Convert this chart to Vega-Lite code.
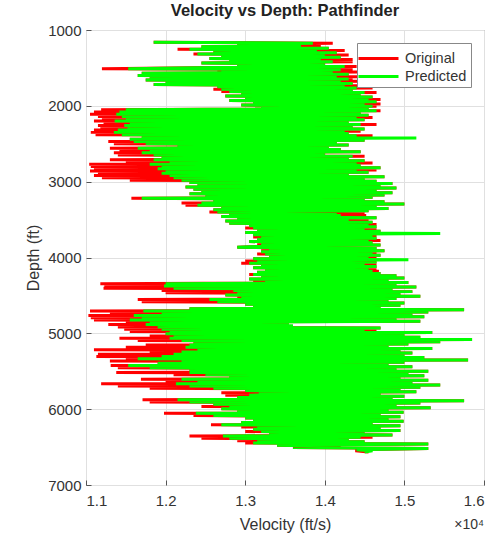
{
"$schema": "https://vega.github.io/schema/vega-lite/v6.json",
"width": 398, "height": 455,
"autosize": {"type": "none"},
"padding": {"left": 86, "top": 30, "right": 12, "bottom": 56},
"background": "white",
"config": {
  "font": "Liberation Sans",
  "view": {"stroke": "#808080", "strokeWidth": 1},
  "axis": {"labelFont": "Liberation Sans", "labelFontSize": 15, "labelColor": "#333333", "titleFont": "Liberation Sans", "titleFontSize": 16, "titleFontWeight": "normal", "titleColor": "#333333", "gridColor": "#e0e0e0", "gridWidth": 1, "domain": false, "tickColor": "#555555", "tickSize": -5}
},
"title": {"text": "Velocity vs Depth: Pathfinder", "fontSize": 16.5, "fontWeight": "bold", "font": "Liberation Sans", "color": "#222222", "offset": 4},
"datasets": {"logs": [
{"d":1160,"Original":11850,"Predicted":11850},
{"d":1175,"Original":14100,"Predicted":13850},
{"d":1190,"Original":12900,"Predicted":12900},
{"d":1205,"Original":13950,"Predicted":13700},
{"d":1220,"Original":12450,"Predicted":12450},
{"d":1240,"Original":14050,"Predicted":14050},
{"d":1255,"Original":12150,"Predicted":12300},
{"d":1270,"Original":14250,"Predicted":13900},
{"d":1285,"Original":12600,"Predicted":12600},
{"d":1300,"Original":14150,"Predicted":14150},
{"d":1315,"Original":12350,"Predicted":12400},
{"d":1330,"Original":14300,"Predicted":14000},
{"d":1345,"Original":12700,"Predicted":12700},
{"d":1360,"Original":14200,"Predicted":14200},
{"d":1375,"Original":12550,"Predicted":12550},
{"d":1390,"Original":14350,"Predicted":13950},
{"d":1405,"Original":12800,"Predicted":12800},
{"d":1420,"Original":14350,"Predicted":14100},
{"d":1435,"Original":12450,"Predicted":12450},
{"d":1450,"Original":14000,"Predicted":14000},
{"d":1465,"Original":12900,"Predicted":12900},
{"d":1480,"Original":14400,"Predicted":14250},
{"d":1495,"Original":12600,"Predicted":12600},
{"d":1510,"Original":11200,"Predicted":11530},
{"d":1525,"Original":14350,"Predicted":14200},
{"d":1540,"Original":12650,"Predicted":12700},
{"d":1555,"Original":14450,"Predicted":14100},
{"d":1570,"Original":11700,"Predicted":11700},
{"d":1585,"Original":14300,"Predicted":14300},
{"d":1600,"Original":11650,"Predicted":11650},
{"d":1615,"Original":14500,"Predicted":14150},
{"d":1630,"Original":11800,"Predicted":11800},
{"d":1645,"Original":14350,"Predicted":14300},
{"d":1660,"Original":11750,"Predicted":11750},
{"d":1675,"Original":14550,"Predicted":14200},
{"d":1690,"Original":12000,"Predicted":12000},
{"d":1705,"Original":14350,"Predicted":14350},
{"d":1720,"Original":11850,"Predicted":11850},
{"d":1735,"Original":14450,"Predicted":14250},
{"d":1750,"Original":12650,"Predicted":12650},
{"d":1765,"Original":14600,"Predicted":14400},
{"d":1780,"Original":12600,"Predicted":12700},
{"d":1795,"Original":14350,"Predicted":14350},
{"d":1810,"Original":12700,"Predicted":12800},
{"d":1825,"Original":14650,"Predicted":14500},
{"d":1840,"Original":12950,"Predicted":12950},
{"d":1855,"Original":14450,"Predicted":14450},
{"d":1870,"Original":12750,"Predicted":12750},
{"d":1885,"Original":14600,"Predicted":14600},
{"d":1900,"Original":13000,"Predicted":13000},
{"d":1915,"Original":14700,"Predicted":14550},
{"d":1930,"Original":12800,"Predicted":12800},
{"d":1945,"Original":14650,"Predicted":14650},
{"d":1960,"Original":13100,"Predicted":13100},
{"d":1975,"Original":14700,"Predicted":14500},
{"d":1990,"Original":12950,"Predicted":12950},
{"d":2005,"Original":14650,"Predicted":14600},
{"d":2020,"Original":13200,"Predicted":13200},
{"d":2035,"Original":14550,"Predicted":14550},
{"d":2050,"Original":11190,"Predicted":11500},
{"d":2065,"Original":14700,"Predicted":14650},
{"d":2080,"Original":11100,"Predicted":11420},
{"d":2095,"Original":14450,"Predicted":14450},
{"d":2110,"Original":11050,"Predicted":11380},
{"d":2125,"Original":14550,"Predicted":14550},
{"d":2140,"Original":11150,"Predicted":11450},
{"d":2155,"Original":14600,"Predicted":14400},
{"d":2170,"Original":11200,"Predicted":11500},
{"d":2185,"Original":14500,"Predicted":14500},
{"d":2200,"Original":11100,"Predicted":11360},
{"d":2215,"Original":14300,"Predicted":14300},
{"d":2230,"Original":11220,"Predicted":11550},
{"d":2245,"Original":14650,"Predicted":14450},
{"d":2260,"Original":11150,"Predicted":11480},
{"d":2275,"Original":14350,"Predicted":14350},
{"d":2290,"Original":11180,"Predicted":11520},
{"d":2305,"Original":14500,"Predicted":14500},
{"d":2320,"Original":11100,"Predicted":11400},
{"d":2335,"Original":14450,"Predicted":14250},
{"d":2350,"Original":11060,"Predicted":11350},
{"d":2365,"Original":14300,"Predicted":14300},
{"d":2380,"Original":11120,"Predicted":11450},
{"d":2395,"Original":14600,"Predicted":14400},
{"d":2410,"Original":11700,"Predicted":11700},
{"d":2425,"Original":14300,"Predicted":15150},
{"d":2440,"Original":11550,"Predicted":11550},
{"d":2455,"Original":14500,"Predicted":14500},
{"d":2470,"Original":11280,"Predicted":11600},
{"d":2485,"Original":14150,"Predicted":14150},
{"d":2500,"Original":11350,"Predicted":11750},
{"d":2515,"Original":14300,"Predicted":14300},
{"d":2530,"Original":12150,"Predicted":12150},
{"d":2545,"Original":14050,"Predicted":14050},
{"d":2560,"Original":11300,"Predicted":11650},
{"d":2575,"Original":14200,"Predicted":14200},
{"d":2590,"Original":11420,"Predicted":11800},
{"d":2605,"Original":14450,"Predicted":14450},
{"d":2620,"Original":11350,"Predicted":11700},
{"d":2635,"Original":14000,"Predicted":14000},
{"d":2650,"Original":11400,"Predicted":11850},
{"d":2665,"Original":14500,"Predicted":14350},
{"d":2680,"Original":11950,"Predicted":11950},
{"d":2695,"Original":14300,"Predicted":14300},
{"d":2710,"Original":11300,"Predicted":11850},
{"d":2725,"Original":14500,"Predicted":14500},
{"d":2740,"Original":11500,"Predicted":12050},
{"d":2755,"Original":14600,"Predicted":14400},
{"d":2770,"Original":11040,"Predicted":11800},
{"d":2785,"Original":14450,"Predicted":14450},
{"d":2800,"Original":11060,"Predicted":11950},
{"d":2815,"Original":14700,"Predicted":14700},
{"d":2830,"Original":11100,"Predicted":11900},
{"d":2845,"Original":14650,"Predicted":14400},
{"d":2860,"Original":11050,"Predicted":12000},
{"d":2875,"Original":14550,"Predicted":14550},
{"d":2890,"Original":11150,"Predicted":11950},
{"d":2905,"Original":14300,"Predicted":14300},
{"d":2920,"Original":11100,"Predicted":12050},
{"d":2935,"Original":14750,"Predicted":14750},
{"d":2950,"Original":11200,"Predicted":12100},
{"d":2965,"Original":14500,"Predicted":14500},
{"d":2980,"Original":11550,"Predicted":12200},
{"d":2995,"Original":14650,"Predicted":14650},
{"d":3010,"Original":12300,"Predicted":12300},
{"d":3025,"Original":14850,"Predicted":14850},
{"d":3040,"Original":12400,"Predicted":12400},
{"d":3055,"Original":14700,"Predicted":14700},
{"d":3070,"Original":12250,"Predicted":12250},
{"d":3085,"Original":14900,"Predicted":14900},
{"d":3100,"Original":12350,"Predicted":12350},
{"d":3115,"Original":14650,"Predicted":14650},
{"d":3130,"Original":12450,"Predicted":12450},
{"d":3145,"Original":14850,"Predicted":14850},
{"d":3160,"Original":12300,"Predicted":12300},
{"d":3175,"Original":14750,"Predicted":14750},
{"d":3190,"Original":12500,"Predicted":12500},
{"d":3205,"Original":14600,"Predicted":14600},
{"d":3220,"Original":11570,"Predicted":11700},
{"d":3235,"Original":14500,"Predicted":14500},
{"d":3250,"Original":12600,"Predicted":12600},
{"d":3265,"Original":14750,"Predicted":14750},
{"d":3280,"Original":12200,"Predicted":12450},
{"d":3295,"Original":15000,"Predicted":15000},
{"d":3310,"Original":12250,"Predicted":12400},
{"d":3325,"Original":14650,"Predicted":14650},
{"d":3340,"Original":12700,"Predicted":12700},
{"d":3355,"Original":14800,"Predicted":14800},
{"d":3370,"Original":12600,"Predicted":12600},
{"d":3385,"Original":14550,"Predicted":14550},
{"d":3400,"Original":12550,"Predicted":12650},
{"d":3415,"Original":14500,"Predicted":14150},
{"d":3430,"Original":12800,"Predicted":12800},
{"d":3445,"Original":14520,"Predicted":14200},
{"d":3460,"Original":12700,"Predicted":12700},
{"d":3475,"Original":14650,"Predicted":14650},
{"d":3490,"Original":12900,"Predicted":12900},
{"d":3505,"Original":14550,"Predicted":14300},
{"d":3520,"Original":12750,"Predicted":12750},
{"d":3535,"Original":14600,"Predicted":14600},
{"d":3550,"Original":12800,"Predicted":12800},
{"d":3565,"Original":14650,"Predicted":14550},
{"d":3580,"Original":13050,"Predicted":13050},
{"d":3595,"Original":14650,"Predicted":14650},
{"d":3610,"Original":13000,"Predicted":13100},
{"d":3625,"Original":14650,"Predicted":14500},
{"d":3640,"Original":13150,"Predicted":13150},
{"d":3655,"Original":14700,"Predicted":14700},
{"d":3670,"Original":13000,"Predicted":13000},
{"d":3685,"Original":14600,"Predicted":15450},
{"d":3700,"Original":13100,"Predicted":13100},
{"d":3715,"Original":14650,"Predicted":14600},
{"d":3730,"Original":13100,"Predicted":13200},
{"d":3745,"Original":14650,"Predicted":14650},
{"d":3760,"Original":13150,"Predicted":13150},
{"d":3775,"Original":14700,"Predicted":14550},
{"d":3790,"Original":13050,"Predicted":13050},
{"d":3805,"Original":14600,"Predicted":14600},
{"d":3820,"Original":13150,"Predicted":13200},
{"d":3835,"Original":14700,"Predicted":14700},
{"d":3850,"Original":13250,"Predicted":13250},
{"d":3865,"Original":12900,"Predicted":12900},
{"d":3880,"Original":14650,"Predicted":14650},
{"d":3895,"Original":13200,"Predicted":13300},
{"d":3910,"Original":14750,"Predicted":14750},
{"d":3925,"Original":13200,"Predicted":13200},
{"d":3940,"Original":14650,"Predicted":14600},
{"d":3955,"Original":13150,"Predicted":13250},
{"d":3970,"Original":14700,"Predicted":14700},
{"d":3985,"Original":13300,"Predicted":13300},
{"d":4000,"Original":14650,"Predicted":14550},
{"d":4015,"Original":13100,"Predicted":13100},
{"d":4030,"Original":14600,"Predicted":15050},
{"d":4045,"Original":13000,"Predicted":13150},
{"d":4060,"Original":14650,"Predicted":14650},
{"d":4075,"Original":12950,"Predicted":13050},
{"d":4090,"Original":14650,"Predicted":14500},
{"d":4105,"Original":13200,"Predicted":13200},
{"d":4120,"Original":14650,"Predicted":14650},
{"d":4135,"Original":13100,"Predicted":13100},
{"d":4150,"Original":14650,"Predicted":14550},
{"d":4165,"Original":13250,"Predicted":13250},
{"d":4180,"Original":14680,"Predicted":14600},
{"d":4195,"Original":13150,"Predicted":13150},
{"d":4210,"Original":14700,"Predicted":14700},
{"d":4225,"Original":13050,"Predicted":13100},
{"d":4240,"Original":14900,"Predicted":14900},
{"d":4255,"Original":13200,"Predicted":13200},
{"d":4270,"Original":15000,"Predicted":15000},
{"d":4285,"Original":13050,"Predicted":13050},
{"d":4300,"Original":14800,"Predicted":14800},
{"d":4315,"Original":13100,"Predicted":13250},
{"d":4330,"Original":15050,"Predicted":15050},
{"d":4345,"Original":11180,"Predicted":12000},
{"d":4360,"Original":14900,"Predicted":14900},
{"d":4375,"Original":11230,"Predicted":11980},
{"d":4390,"Original":15150,"Predicted":15150},
{"d":4405,"Original":11220,"Predicted":12100},
{"d":4420,"Original":14850,"Predicted":14850},
{"d":4435,"Original":11950,"Predicted":12850},
{"d":4450,"Original":15100,"Predicted":15100},
{"d":4465,"Original":12000,"Predicted":12900},
{"d":4480,"Original":14950,"Predicted":14950},
{"d":4495,"Original":12750,"Predicted":12750},
{"d":4510,"Original":15200,"Predicted":15200},
{"d":4525,"Original":12900,"Predicted":12950},
{"d":4540,"Original":14900,"Predicted":14900},
{"d":4555,"Original":11650,"Predicted":12550},
{"d":4570,"Original":14800,"Predicted":14800},
{"d":4585,"Original":11700,"Predicted":12650},
{"d":4600,"Original":15000,"Predicted":15000},
{"d":4615,"Original":13000,"Predicted":13000},
{"d":4630,"Original":14950,"Predicted":14950},
{"d":4645,"Original":13100,"Predicted":13100},
{"d":4660,"Original":14700,"Predicted":14700},
{"d":4675,"Original":12300,"Predicted":12300},
{"d":4690,"Original":15750,"Predicted":15750},
{"d":4705,"Original":11050,"Predicted":11720},
{"d":4720,"Original":15300,"Predicted":15300},
{"d":4735,"Original":11300,"Predicted":11950},
{"d":4750,"Original":15100,"Predicted":15100},
{"d":4765,"Original":11030,"Predicted":11600},
{"d":4780,"Original":15250,"Predicted":15250},
{"d":4795,"Original":11060,"Predicted":11700},
{"d":4810,"Original":14900,"Predicted":14900},
{"d":4825,"Original":11100,"Predicted":11550},
{"d":4840,"Original":15200,"Predicted":15200},
{"d":4855,"Original":11500,"Predicted":11800},
{"d":4870,"Original":13550,"Predicted":13550},
{"d":4885,"Original":11280,"Predicted":11750},
{"d":4900,"Original":13350,"Predicted":13600},
{"d":4915,"Original":11400,"Predicted":11900},
{"d":4930,"Original":14700,"Predicted":14700},
{"d":4945,"Original":11480,"Predicted":11950},
{"d":4960,"Original":14650,"Predicted":14500},
{"d":4975,"Original":11550,"Predicted":12050},
{"d":4990,"Original":15350,"Predicted":15350},
{"d":5005,"Original":12000,"Predicted":12000},
{"d":5020,"Original":15000,"Predicted":15000},
{"d":5035,"Original":11800,"Predicted":12100},
{"d":5050,"Original":15200,"Predicted":15200},
{"d":5065,"Original":11420,"Predicted":12050},
{"d":5080,"Original":15850,"Predicted":15850},
{"d":5095,"Original":11650,"Predicted":12200},
{"d":5110,"Original":15450,"Predicted":15450},
{"d":5125,"Original":12350,"Predicted":12350},
{"d":5140,"Original":15050,"Predicted":15050},
{"d":5155,"Original":11750,"Predicted":12300},
{"d":5170,"Original":14800,"Predicted":14800},
{"d":5185,"Original":11500,"Predicted":12250},
{"d":5200,"Original":15350,"Predicted":15350},
{"d":5215,"Original":11100,"Predicted":12400},
{"d":5230,"Original":14950,"Predicted":14950},
{"d":5245,"Original":11800,"Predicted":12200},
{"d":5260,"Original":15100,"Predicted":15100},
{"d":5275,"Original":11150,"Predicted":12100},
{"d":5290,"Original":15000,"Predicted":15000},
{"d":5305,"Original":11130,"Predicted":11950},
{"d":5320,"Original":15250,"Predicted":15250},
{"d":5335,"Original":11500,"Predicted":11650},
{"d":5350,"Original":15800,"Predicted":15800},
{"d":5365,"Original":11300,"Predicted":12200},
{"d":5380,"Original":15000,"Predicted":15000},
{"d":5395,"Original":11900,"Predicted":11900},
{"d":5410,"Original":14800,"Predicted":14800},
{"d":5425,"Original":11310,"Predicted":11530},
{"d":5440,"Original":15100,"Predicted":15100},
{"d":5455,"Original":11400,"Predicted":11800},
{"d":5470,"Original":14900,"Predicted":14900},
{"d":5485,"Original":12300,"Predicted":12300},
{"d":5500,"Original":15300,"Predicted":15300},
{"d":5515,"Original":11380,"Predicted":12300},
{"d":5530,"Original":15050,"Predicted":15050},
{"d":5545,"Original":12100,"Predicted":12500},
{"d":5560,"Original":15250,"Predicted":15250},
{"d":5575,"Original":12800,"Predicted":12800},
{"d":5590,"Original":14950,"Predicted":14950},
{"d":5605,"Original":11690,"Predicted":12200},
{"d":5620,"Original":15300,"Predicted":15300},
{"d":5635,"Original":12000,"Predicted":12400},
{"d":5650,"Original":15100,"Predicted":15100},
{"d":5665,"Original":11190,"Predicted":12130},
{"d":5680,"Original":15450,"Predicted":15450},
{"d":5695,"Original":11400,"Predicted":12300},
{"d":5710,"Original":15200,"Predicted":15200},
{"d":5725,"Original":11800,"Predicted":12600},
{"d":5740,"Original":14950,"Predicted":14950},
{"d":5755,"Original":13000,"Predicted":13000},
{"d":5770,"Original":15150,"Predicted":15150},
{"d":5785,"Original":12700,"Predicted":13170},
{"d":5800,"Original":14700,"Predicted":14700},
{"d":5815,"Original":12750,"Predicted":13050},
{"d":5830,"Original":15000,"Predicted":15000},
{"d":5845,"Original":12900,"Predicted":12900},
{"d":5860,"Original":14850,"Predicted":14850},
{"d":5875,"Original":11710,"Predicted":12150},
{"d":5890,"Original":15750,"Predicted":15750},
{"d":5905,"Original":11800,"Predicted":12300},
{"d":5920,"Original":15200,"Predicted":15200},
{"d":5935,"Original":12600,"Predicted":12600},
{"d":5950,"Original":14900,"Predicted":14900},
{"d":5965,"Original":12450,"Predicted":12800},
{"d":5980,"Original":15330,"Predicted":15330},
{"d":5995,"Original":12700,"Predicted":12700},
{"d":6010,"Original":14800,"Predicted":14800},
{"d":6025,"Original":12900,"Predicted":12900},
{"d":6040,"Original":14990,"Predicted":14990},
{"d":6055,"Original":11980,"Predicted":12380},
{"d":6070,"Original":14700,"Predicted":14700},
{"d":6085,"Original":12350,"Predicted":12600},
{"d":6100,"Original":14950,"Predicted":14950},
{"d":6115,"Original":13000,"Predicted":13000},
{"d":6130,"Original":14800,"Predicted":14800},
{"d":6145,"Original":13100,"Predicted":13100},
{"d":6160,"Original":14990,"Predicted":14990},
{"d":6175,"Original":12950,"Predicted":12950},
{"d":6190,"Original":14600,"Predicted":14600},
{"d":6205,"Original":12570,"Predicted":12700},
{"d":6220,"Original":14950,"Predicted":14950},
{"d":6235,"Original":12950,"Predicted":13150},
{"d":6250,"Original":14700,"Predicted":14700},
{"d":6265,"Original":13100,"Predicted":13100},
{"d":6280,"Original":14950,"Predicted":14950},
{"d":6295,"Original":13000,"Predicted":13200},
{"d":6310,"Original":14500,"Predicted":14500},
{"d":6325,"Original":13300,"Predicted":13300},
{"d":6340,"Original":14850,"Predicted":14850},
{"d":6355,"Original":12300,"Predicted":12720},
{"d":6370,"Original":14600,"Predicted":14450},
{"d":6385,"Original":12450,"Predicted":12800},
{"d":6400,"Original":14300,"Predicted":14300},
{"d":6415,"Original":12900,"Predicted":13150},
{"d":6430,"Original":14500,"Predicted":14500},
{"d":6445,"Original":13000,"Predicted":13100},
{"d":6460,"Original":15300,"Predicted":15300},
{"d":6475,"Original":13400,"Predicted":13400},
{"d":6490,"Original":14200,"Predicted":14150},
{"d":6505,"Original":13600,"Predicted":13600},
{"d":6520,"Original":15300,"Predicted":15300},
{"d":6535,"Original":14400,"Predicted":14400},
{"d":6550,"Original":14400,"Predicted":14600},
{"d":6565,"Original":14550,"Predicted":14500}
]},
"layer": [
  {
    "data": {"name": "logs"},
    "transform": [{"fold": ["Original", "Predicted"], "as": ["series", "v"]}, {"filter": "datum.series == 'Original'"}],
    "mark": {"type": "line", "strokeWidth": 3, "clip": true},
    "encoding": {
      "x": {"field": "v", "type": "quantitative", "scale": {"domain": [11000, 16000], "nice": false, "zero": false}, "axis": {"values": [11000, 12000, 13000, 14000, 15000, 16000], "labelExpr": "format(datum.value/10000, '.1f')", "title": "Velocity (ft/s)", "labelPadding": 13, "titlePadding": 8, "grid": true}},
      "y": {"field": "d", "type": "quantitative", "scale": {"domain": [1000, 7000], "reverse": true, "nice": false, "zero": false}, "axis": {"values": [1000, 2000, 3000, 4000, 5000, 6000, 7000], "format": "d", "title": "Depth (ft)", "labelPadding": 10, "titlePadding": 6, "grid": true}},
      "order": {"field": "d", "type": "quantitative"},
      "color": {"field": "series", "type": "nominal", "scale": {"domain": ["Original", "Predicted"], "range": ["#ff0000", "#00ff00"]}, "legend": {"title": null, "orient": "top-right", "offset": 13, "symbolType": "M-2,0H2", "symbolSize": 400, "symbolStrokeWidth": 3, "symbolOffset": 6, "labelFontSize": 14.5, "labelFont": "Liberation Sans", "labelColor": "#333333", "labelOffset": 15, "fillColor": "white", "strokeColor": "#888888", "padding": 4, "rowPadding": -3}}
    }
  },
  {
    "data": {"name": "logs"},
    "transform": [{"fold": ["Original", "Predicted"], "as": ["series", "v"]}, {"filter": "datum.series == 'Predicted'"}],
    "mark": {"type": "line", "strokeWidth": 3, "clip": true},
    "encoding": {
      "x": {"field": "v", "type": "quantitative"},
      "y": {"field": "d", "type": "quantitative"},
      "order": {"field": "d", "type": "quantitative"},
      "color": {"field": "series", "type": "nominal"}
    }
  },
  {
    "data": {"values": [{"lab": "×10⁴"}]},
    "mark": {"type": "text", "align": "right", "baseline": "middle", "dy": 40, "fontSize": 14, "font": "Liberation Sans", "color": "#333333"},
    "encoding": {
      "x": {"datum": 16000, "type": "quantitative"},
      "y": {"datum": 7000, "type": "quantitative"},
      "text": {"field": "lab"}
    }
  }
]
}
